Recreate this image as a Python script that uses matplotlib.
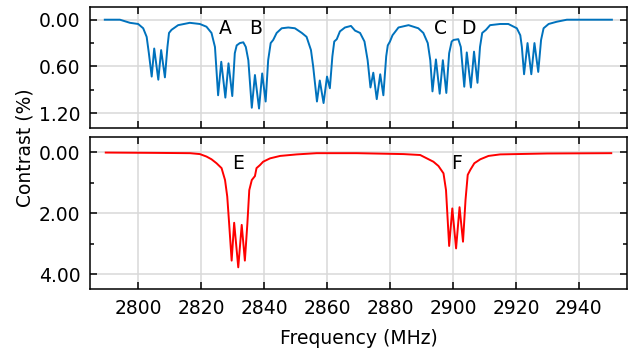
import matplotlib
matplotlib.use("Agg")
import matplotlib.pyplot as plt
from matplotlib.ticker import MultipleLocator, FormatStrFormatter

plt.rcParams['font.family'] = ['DejaVu Sans']

# ---- data ----
top_freq = [2789.4, 2794.2, 2797.4, 2800.0, 2801.6, 2802.7, 2803.4, 2804.3, 2805.1, 2806.4,
            2807.3, 2808.5, 2809.3, 2809.8, 2810.6, 2812.7, 2816.4, 2819.6, 2821.7, 2823.3,
            2824.4, 2825.4, 2826.4, 2827.7, 2828.7, 2829.9, 2830.7, 2831.3, 2832.3, 2833.4,
            2834.2, 2835.0, 2836.1, 2837.1, 2838.4, 2839.4, 2840.5, 2841.3, 2842.1, 2842.9,
            2844.0, 2845.6, 2847.7, 2849.8, 2852.0, 2853.5, 2854.9, 2855.6, 2856.8, 2857.7,
            2858.9, 2860.0, 2860.9, 2861.7, 2862.3, 2863.1, 2864.1, 2865.7, 2867.6, 2868.9,
            2870.5, 2871.9, 2872.9, 2873.8, 2874.7, 2875.8, 2876.9, 2877.9, 2878.8, 2879.3,
            2880.0, 2880.8, 2882.7, 2885.9, 2889.0, 2890.6, 2892.0, 2892.8, 2893.5, 2894.6,
            2895.8, 2896.8, 2897.9, 2898.8, 2899.6, 2900.2, 2901.7, 2902.5, 2903.6, 2904.4,
            2905.7, 2906.7, 2907.8, 2908.6, 2909.3, 2910.5, 2911.8, 2915.0, 2917.6, 2920.3,
            2921.4, 2921.9, 2922.6, 2923.7, 2924.9, 2925.9, 2927.1, 2928.0, 2928.8, 2930.4,
            2933.0, 2936.2, 2941.5, 2950.5]
top_contrast = [0.0, 0.0, 0.04, 0.055, 0.11, 0.22, 0.43, 0.73, 0.37, 0.77,
                0.39, 0.74, 0.35, 0.17, 0.13, 0.07, 0.04, 0.055, 0.09, 0.17,
                0.35, 0.97, 0.54, 1.00, 0.56, 0.98, 0.43, 0.33, 0.30, 0.29,
                0.35, 0.52, 1.13, 0.71, 1.14, 0.69, 1.05, 0.52, 0.30, 0.26,
                0.17, 0.11, 0.10, 0.11, 0.17, 0.22, 0.39, 0.60, 1.05, 0.78,
                1.07, 0.73, 0.88, 0.47, 0.28, 0.25, 0.15, 0.10, 0.08, 0.14,
                0.17, 0.28, 0.52, 0.87, 0.68, 1.02, 0.70, 0.97, 0.47, 0.33,
                0.28, 0.20, 0.10, 0.07, 0.11, 0.17, 0.30, 0.52, 0.92, 0.51,
                0.95, 0.52, 0.94, 0.43, 0.28, 0.26, 0.25, 0.35, 0.86, 0.42,
                0.87, 0.41, 0.81, 0.35, 0.17, 0.13, 0.07, 0.055, 0.055, 0.11,
                0.20, 0.35, 0.70, 0.30, 0.70, 0.30, 0.67, 0.26, 0.11, 0.055,
                0.026, 0.0, 0.0, 0.0]

bot_freq = [2789.7, 2805.0, 2816.5, 2819.6, 2821.7, 2823.3, 2824.9, 2826.5, 2827.6, 2828.3,
            2828.9, 2829.7, 2830.5, 2831.8, 2832.9, 2833.9, 2834.7, 2835.3, 2836.1, 2837.1,
            2837.6, 2838.7, 2839.7, 2841.9, 2845.1, 2850.4, 2856.7, 2869.4, 2884.3, 2889.6,
            2891.7, 2893.8, 2895.4, 2897.0, 2897.8, 2898.8, 2899.8, 2901.0, 2902.1, 2903.2,
            2904.0, 2904.7, 2905.5, 2906.8, 2908.7, 2911.3, 2915.0, 2930.0, 2950.3]
bot_contrast = [0.01, 0.02, 0.03, 0.06, 0.14, 0.23, 0.36, 0.52, 0.91, 1.45,
                2.33, 3.55, 2.31, 3.77, 2.38, 3.55, 2.33, 1.24, 0.91, 0.78,
                0.52, 0.42, 0.31, 0.20, 0.12, 0.07, 0.03, 0.03, 0.06, 0.09,
                0.20, 0.31, 0.45, 0.69, 1.24, 3.07, 1.84, 3.15, 1.80, 2.93,
                1.56, 0.74, 0.58, 0.36, 0.23, 0.12, 0.07, 0.04, 0.03]

top_labels = ['A', 'B', 'C', 'D']
top_label_freq = [2827.8, 2837.4, 2895.9, 2904.9]
bot_labels = ['E', 'F']
bot_label_freq = [2831.6, 2901.2]

x_ticks = [2800, 2820, 2840, 2860, 2880, 2900, 2920, 2940]

# ---- figure ----
fig = plt.figure(figsize=(6.36, 3.56), dpi=100)
ax1 = fig.add_axes([90/636, 1-128/356, 537/636, 121/356])
ax2 = fig.add_axes([90/636, 1-289/356, 537/636, 152/356], sharex=ax1)

ax1.plot(top_freq, top_contrast, color='#0072BD', lw=1.4)
ax2.plot(bot_freq, bot_contrast, color='#FF0000', lw=1.4)

ax1.set_xlim(2784.7, 2955.3)
ax1.set_ylim(1.39, -0.163)
ax2.set_ylim(4.48, -0.50)

ax1.yaxis.set_major_locator(MultipleLocator(0.6))
ax1.yaxis.set_minor_locator(MultipleLocator(0.3))
ax2.yaxis.set_major_locator(MultipleLocator(2.0))
ax2.yaxis.set_minor_locator(MultipleLocator(1.0))
for ax in (ax1, ax2):
    ax.set_xticks(x_ticks)
    ax.yaxis.set_major_formatter(FormatStrFormatter('%.2f'))
    ax.grid(True, color='#d9d9d9', lw=1.1)
    ax.set_axisbelow(True)
    ax.tick_params(which='both', direction='in', top=True, right=True,
                   width=1.1, labelsize=13.5, pad=7, colors='black')
    ax.tick_params(which='major', length=5)
    ax.tick_params(which='minor', length=3)
    for s in ax.spines.values():
        s.set_linewidth(1.1)
ax1.tick_params(labelbottom=False)

for lab, f in zip(top_labels, top_label_freq):
    ax1.text(f, 0.185, lab, fontsize=13.5, ha='center', va='baseline')
for lab, f in zip(bot_labels, bot_label_freq):
    ax2.text(f, 0.56, lab, fontsize=13.5, ha='center', va='baseline')

ax2.set_xlabel('Frequency (MHz)', fontsize=13.5, labelpad=8)
fig.text(25/636, 1-148/356, 'Contrast (%)', rotation=90, fontsize=13.5,
         ha='center', va='center')

fig.savefig('out.png', dpi=100)
